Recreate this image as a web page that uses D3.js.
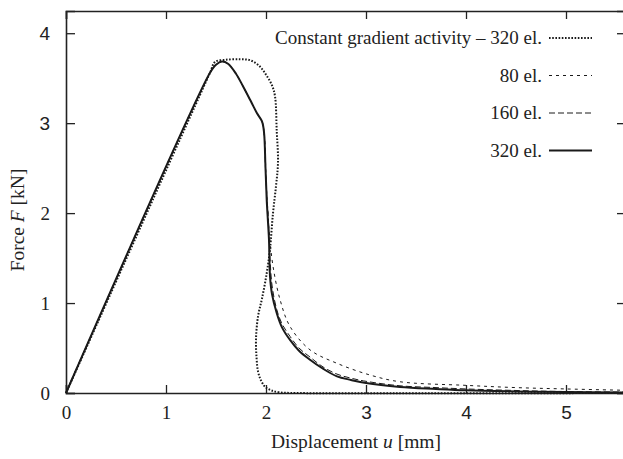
<!DOCTYPE html>
<html>
<head>
<meta charset="utf-8">
<script src="https://cdn.jsdelivr.net/npm/d3@7"></script>
<style>
  body { margin: 0; background: #fff; }
</style>
</head>
<body>
<div class="chart"></div>
<script>
// Chart data
var xTicks = [0, 1, 2, 3, 4, 5];
var yTicks = [0, 1, 2, 3, 4];

// Constant gradient activity - 320 el.
var cgaX = [0, 1.44, 1.49, 1.60, 1.74, 1.84, 1.93, 2.0, 2.06, 2.09, 2.107, 2.12, 2.10, 2.07, 2.04, 2.007, 1.96, 1.92, 1.90, 1.905, 1.92, 1.95, 1.99, 2.05, 2.14, 2.3, 5.6];
var cgaY = [0, 3.56, 3.68, 3.705, 3.71, 3.70, 3.64, 3.54, 3.42, 3.30, 2.92, 2.56, 2.30, 2.0, 1.60, 1.33, 1.05, 0.85, 0.60, 0.40, 0.24, 0.14, 0.07, 0.03, 0.007, 0, 0];

// 80 el.
var el80X = [0, 1.44, 1.50, 1.56, 1.62, 1.70, 1.77, 1.85, 1.91, 1.96, 1.985, 2.0, 2.02, 2.04, 2.07, 2.14, 2.24, 2.44, 2.71, 3.04, 3.34, 4.0, 4.5, 5.0, 5.6];
var el80Y = [0, 3.56, 3.65, 3.685, 3.66, 3.55, 3.41, 3.24, 3.11, 3.02, 2.85, 2.40, 2.0, 1.70, 1.41, 1.04, 0.74, 0.48, 0.33, 0.20, 0.125, 0.085, 0.06, 0.045, 0.03];

// 160 el.
var el160X = [0, 1.44, 1.50, 1.56, 1.62, 1.70, 1.77, 1.85, 1.91, 1.96, 1.98, 1.995, 2.01, 2.025, 2.04, 2.06, 2.107, 2.16, 2.24, 2.33, 2.44, 2.57, 2.71, 2.85, 3.0, 3.34, 3.7, 4.0, 4.5, 5.0, 5.6];
var el160Y = [0, 3.56, 3.65, 3.685, 3.66, 3.55, 3.41, 3.24, 3.11, 3.02, 2.9, 2.5, 2.15, 1.9, 1.5, 1.2, 0.93, 0.77, 0.63, 0.50, 0.40, 0.29, 0.21, 0.165, 0.13, 0.08, 0.06, 0.045, 0.028, 0.016, 0.01];

// 320 el.
var el320X = [0, 1.44, 1.50, 1.56, 1.62, 1.70, 1.77, 1.85, 1.91, 1.96, 1.98, 1.995, 2.007, 2.02, 2.03, 2.04, 2.06, 2.107, 2.16, 2.24, 2.33, 2.44, 2.57, 2.71, 2.85, 3.0, 3.34, 3.7, 4.0, 4.5, 5.0, 5.6];
var el320Y = [0, 3.56, 3.65, 3.685, 3.66, 3.55, 3.41, 3.24, 3.11, 3.02, 2.9, 2.5, 2.15, 1.9, 1.7, 1.3, 1.1, 0.89, 0.73, 0.59, 0.47, 0.37, 0.27, 0.185, 0.145, 0.11, 0.067, 0.045, 0.03, 0.018, 0.01, 0.005];

var serif = '"Liberation Serif", "Times New Roman", serif';
var sans = '"Liberation Sans", Arial, sans-serif';

// Chart params
var svgWidth = 623;
var svgHeight = 459;
var margin = { top: 11, right: -2, bottom: 66, left: 66 };
var width = svgWidth - margin.left - margin.right;
var height = svgHeight - margin.top - margin.bottom;

var svg = d3.select(".chart")
  .append("svg")
  .attr("width", svgWidth)
  .attr("height", svgHeight);

var chartGroup = svg.append("g")
  .attr("transform", `translate(${margin.left}, ${margin.top})`);

var xScale = d3.scaleLinear().domain([0, 5.59]).range([0, width]);
var yScale = d3.scaleLinear().domain([0, 4.247]).range([height, 0]);

// mixed fonts in the tick labels, like the original
function tickFont(d) { return d >= 3 ? sans : serif; }

// Bottom axis
var bottomAxis = d3.axisBottom(xScale).tickValues(xTicks).tickSize(-8).tickPadding(13).tickFormat(d3.format("d"));
var gx = chartGroup.append("g")
  .attr("transform", `translate(0, ${height})`)
  .call(bottomAxis);
gx.selectAll("text").style("font-family", tickFont);

var topAxis = d3.axisTop(xScale).tickValues(xTicks).tickSize(-8).tickFormat("");
chartGroup.append("g").call(topAxis);

var leftAxis = d3.axisLeft(yScale).tickValues(yTicks).tickSize(-9).tickPadding(16).tickFormat(d3.format("d"));
var gy = chartGroup.append("g").call(leftAxis);
gy.selectAll("text").style("font-family", tickFont);

var rightAxis = d3.axisRight(yScale).tickValues(yTicks).tickSize(-8).tickFormat("");
chartGroup.append("g").attr("transform", `translate(${width}, 0)`).call(rightAxis);

chartGroup.selectAll(".domain").attr("stroke", "#222").attr("stroke-width", 1.6);
chartGroup.selectAll(".tick line").attr("stroke", "#222").attr("stroke-width", 1.3);
chartGroup.selectAll(".tick text").attr("fill", "#222").style("font-size", "19px");

// Line generator
var line = d3.line()
  .x(d => xScale(d[0]))
  .y(d => yScale(d[1]))
  .curve(d3.curveCatmullRom.alpha(0.5));

var series = [
  { label: "Constant gradient activity \u2013 320 el.", xs: cgaX, ys: cgaY, width: 2, dash: "1.6,1.6" },
  { label: "80 el.", xs: el80X, ys: el80Y, width: 1, dash: "3,4" },
  { label: "160 el.", xs: el160X, ys: el160Y, width: 1, dash: "6,3" },
  { label: "320 el.", xs: el320X, ys: el320Y, width: 2, dash: null }
];

var plotArea = chartGroup.append("g");
series.forEach(function(s) {
  var pts = s.xs.map((x, i) => [x, s.ys[i]]);
  plotArea.append("path")
    .datum(pts)
    .attr("d", line)
    .attr("fill", "none")
    .attr("stroke", "#1a1a1a")
    .attr("stroke-width", s.width)
    .attr("stroke-dasharray", s.dash);
});

// Legend
var legend = svg.append("g");
series.forEach(function(s, i) {
  var y = 38 + i * 37.5;
  legend.append("text")
    .attr("x", 542)
    .attr("y", y + 6)
    .attr("text-anchor", "end")
    .style("font-family", serif)
    .style("font-size", "19px")
    .attr("fill", "#222")
    .text(s.label);
  legend.append("line")
    .attr("x1", 549).attr("x2", 592)
    .attr("y1", y).attr("y2", y)
    .attr("stroke", "#1a1a1a")
    .attr("stroke-width", s.width)
    .attr("stroke-dasharray", s.dash);
});

// Axis titles
var xTitle = svg.append("text")
  .attr("x", 356)
  .attr("y", 448)
  .attr("text-anchor", "middle")
  .style("font-family", serif)
  .style("font-size", "19.5px")
  .attr("fill", "#222");
xTitle.append("tspan").text("Displacement ");
xTitle.append("tspan").style("font-style", "italic").text("u");
xTitle.append("tspan").text(" [mm]");

var yTitle = svg.append("text")
  .attr("transform", "translate(24, 220) rotate(-90)")
  .attr("text-anchor", "middle")
  .style("font-family", serif)
  .style("font-size", "19.5px")
  .attr("fill", "#222");
yTitle.append("tspan").text("Force ");
yTitle.append("tspan").style("font-style", "italic").text("F");
yTitle.append("tspan").text(" [kN]");
</script>
</body>
</html>
